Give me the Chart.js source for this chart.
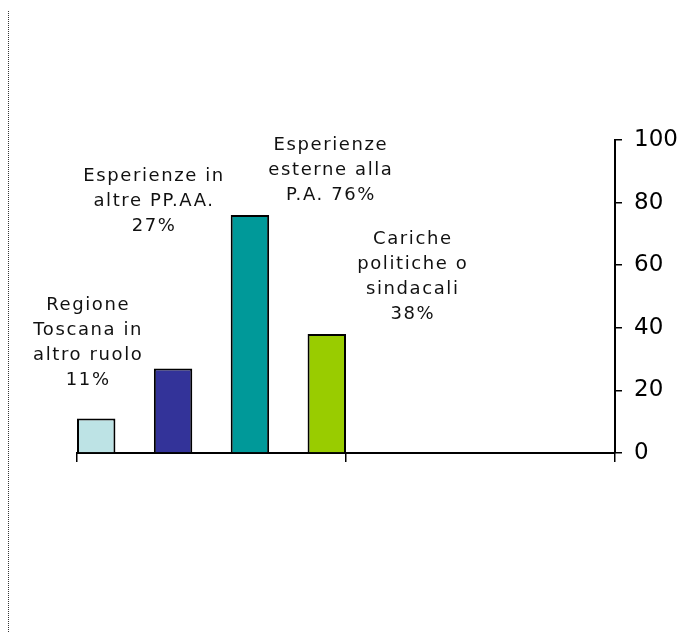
<!DOCTYPE html>
<html>
<head>
<meta charset="utf-8">
<script src="https://cdn.jsdelivr.net/npm/chart.js@4/dist/chart.umd.min.js"></script>
<style>
  html, body { margin: 0; padding: 0; background: #fff; }
  #wrap { position: relative; width: 682px; height: 632px; }
  #dots { position: absolute; left: 8px; top: 11px; height: 621px; border-left: 1px dotted #333; }
</style>
</head>
<body>
<div id="wrap">
  <div id="dots"></div>
  <canvas id="grafico" width="682" height="632"></canvas>
</div>
<script>
// --- dati ---
const CATEGORIE = ['', ''];
const SERIE = [
  'Regione Toscana in altro ruolo',
  'Esperienze in altre PP.AA.',
  'Esperienze esterne alla P.A.',
  'Cariche politiche o sindacali',
];
const VALORI = [11, 27, 76, 38];
const ETICHETTE = [
  ['Regione', 'Toscana in', 'altro ruolo', '11%'],
  ['Esperienze in', 'altre PP.AA.', '27%'],
  ['Esperienze', 'esterne alla', 'P.A. 76%'],
  ['Cariche', 'politiche o', 'sindacali', '38%'],
];
const COLORI = ['#bde3e5', '#333399', '#009999', '#99cc00'];
const TICK_Y = [0, 20, 40, 60, 80, 100];

// posizione delle etichette rispetto alla cima della barra
const OFFSET_ETICHETTE = [
  { dx: -8, dy: -34 },
  { dx: -19, dy: -137 },
  { dx: 81, dy: -15 },
  { dx: 86, dy: -15 },
];

const etichettePlugin = {
  id: 'etichette',
  afterDatasetsDraw(chart) {
    const ctx = chart.ctx;
    ctx.save();
    ctx.font = '18px "DejaVu Sans", Verdana, sans-serif';
    ctx.fillStyle = '#111';
    ctx.textAlign = 'center';
    ctx.textBaseline = 'alphabetic';
    ctx.letterSpacing = '1.6px';
    chart.data.datasets.forEach((ds, i) => {
      const bar = chart.getDatasetMeta(i).data[0];
      const righe = ETICHETTE[i];
      const off = OFFSET_ETICHETTE[i];
      righe.forEach((riga, j) => {
        const y = bar.y + off.dy - (righe.length - 1 - j) * 25;
        ctx.fillText(riga, bar.x + off.dx, y);
      });
    });
    ctx.restore();
  },
};

new Chart(document.getElementById('grafico'), {
  type: 'bar',
  data: {
    labels: CATEGORIE,
    datasets: SERIE.map((nome, i) => ({
      label: nome,
      data: [VALORI[i], null],
      backgroundColor: COLORI[i],
      borderColor: '#000',
      borderWidth: 2,
      categoryPercentage: 8 / 7,
      barPercentage: 0.5,
    })),
  },
  options: {
    responsive: false,
    animation: false,
    layout: { padding: { left: 77, top: 140, right: 0, bottom: 0 } },
    plugins: {
      legend: { display: false },
      tooltip: { enabled: false },
      title: { display: false },
    },
    scales: {
      x: {
        offset: true,
        grid: {
          offset: true,
          drawOnChartArea: false,
          drawTicks: true,
          tickLength: 9,
          color: '#000',
          lineWidth: 1.5,
        },
        border: { display: true, color: '#000', width: 2 },
        ticks: { display: false },
        afterFit: scale => {
          scale.height = 179;
        },
      },
      y: {
        position: 'right',
        min: 0,
        max: 100,
        afterBuildTicks: scale => {
          scale.ticks = TICK_Y.map(v => ({ value: v }));
        },
        grid: {
          drawOnChartArea: false,
          drawTicks: true,
          tickLength: 7,
          color: '#000',
          lineWidth: 1.5,
        },
        border: { display: true, color: '#000', width: 2 },
        ticks: {
          color: '#000',
          padding: 12,
          font: { family: '"DejaVu Sans", Verdana, sans-serif', size: 23 },
        },
        afterFit: scale => {
          scale.width = 67;
        },
      },
    },
  },
  plugins: [etichettePlugin],
});
</script>
</body>
</html>
